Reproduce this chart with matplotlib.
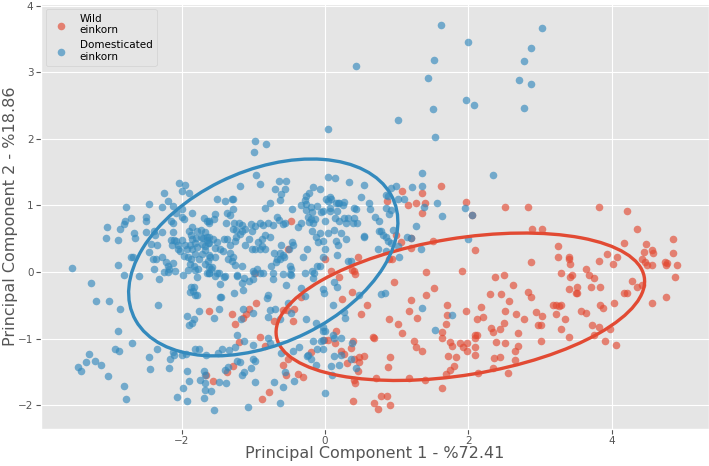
import matplotlib

matplotlib.use("Agg")

import matplotlib.pyplot as plt
import numpy as np
from matplotlib.patches import Ellipse

# PCA scores (PC1, PC2)
DOMESTICATED = [
    # sparse points above the main cloud
    (1.62, 3.71), (2.0, 3.45), (0.43, 3.10), (1.52, 3.18), (1.44, 2.92), (1.97, 2.58),
    (1.51, 2.45), (1.02, 2.28), (1.53, 2.03), (0.04, 2.15), (-0.97, 1.97), (-0.82, 1.92),
    (-0.99, 1.80), (3.03, 3.66), (2.88, 3.36), (2.78, 3.17), (2.71, 2.88), (2.88, 2.82),
    (2.08, 2.50), (2.78, 2.46), (2.34, 1.46), (1.96, 0.96), (2.05, 0.86), (2.0, 0.49),
    # upper cloud, right half
    (1.36, 1.48), (1.36, 1.29), (0.99, 1.29), (0.92, 1.26), (1.21, 1.27), (0.88, 1.14),
    (1.02, 1.10), (1.11, 1.10), (1.38, 0.97), (1.56, 1.03), (1.63, 0.84), (1.27, 0.69),
    (0.92, 0.93), (0.75, 0.61), (0.70, 0.83), (0.63, 0.94), (0.61, 1.04), (0.51, 1.12),
    (0.54, 1.31), (0.33, 1.35), (0.40, 0.96), (0.44, 0.94), (0.45, 0.73), (0.55, 0.54),
    (0.04, 1.43), (0.14, 1.41), (-0.17, 1.28), (-0.07, 1.24), (0.07, 1.12), (0.09, 1.10),
    (0.05, 1.06), (-0.22, 1.18), (-0.26, 1.14), (-0.26, 1.02), (-0.27, 0.93), (-0.18, 0.90),
    (-0.14, 0.80), (0.18, 1.03), (0.25, 1.0), (0.07, 0.96), (0.07, 0.91), (0.0, 0.77),
    (-0.46, 0.94), (-0.64, 1.36), (-0.54, 1.36), (-0.70, 1.24), (-0.55, 1.24), (-0.61, 1.17),
    (-0.62, 1.08), (-0.90, 1.32), (-0.96, 1.45), (-1.18, 1.29), (-0.76, 1.03), (-0.84, 0.96),
    (-1.28, 1.10), (-1.28, 0.94), (-0.20, 0.80), (-0.23, 0.83), (-0.06, 0.90),
    (-0.34, 1.0), (-0.28, 1.08), (-0.11, 0.99), (-0.19, 0.97), (0.02, 1.10),
    (0.13, 0.63), (0.05, 0.58), (0.23, 0.58), (0.30, 0.49), (0.55, 0.53), (0.78, 0.61),
    (0.81, 0.56), (0.85, 0.53), (0.95, 0.63), (1.15, 0.53), (1.20, 0.51), (0.20, 0.77),
    (0.26, 0.81), (0.32, 0.81), (0.40, 0.81), (0.39, 0.73), (0.30, 0.73), (0.14, 0.81),
    (0.15, 1.03), (0.20, 1.03), (0.27, 1.05), (-0.03, 0.91), (0.17, 0.91), (0.75, 0.76),
    (0.85, 1.15), (0.85, 0.96), (0.90, 0.87),
    (-1.24, 0.63), (-1.28, 0.65), (-1.18, 0.57), (-1.24, 0.53), (-1.06, 0.49), (-1.02, 0.61),
    (-1.12, 0.65), (-1.16, 0.62), (-0.77, 0.53), (-0.84, 0.55), (-0.88, 0.50), (-1.27, 0.73),
    (-1.20, 0.74), (-1.16, 0.71), (-1.03, 0.72), (-0.98, 0.69), (-0.90, 0.73), (-0.86, 0.71),
    (-0.79, 0.73), (-0.73, 0.71), (-0.67, 0.83), (-0.64, 0.78), (-0.59, 0.72), (-0.55, 0.74),
    (-0.37, 0.68), (-0.34, 0.73), (-0.22, 0.75), (-0.16, 0.73), (-0.18, 0.62), (-0.07, 0.58),
    (-0.12, 0.52),
    # upper cloud, left half
    (-1.51, 1.09), (-1.40, 1.06), (-1.30, 1.09), (-1.69, 0.81), (-1.53, 0.87), (-1.55, 0.80),
    (-1.62, 0.77), (-1.36, 0.89), (-1.33, 0.85), (-1.38, 0.73), (-1.36, 0.49), (-1.33, 0.41),
    (-1.41, 0.49), (-1.51, 0.45), (-1.54, 0.36), (-1.46, 0.34), (-1.42, 0.31), (-1.56, 0.49),
    (-1.64, 0.53), (-1.65, 0.48), (-1.70, 0.51), (-1.62, 0.44), (-1.32, 0.29), (-1.35, 0.19),
    (-1.30, 0.16), (-1.53, 0.23), (-1.63, 0.16), (-1.59, 0.04), (-1.53, -0.06), (-1.39, -0.06),
    (-0.09, 0.45), (0.0, 0.35), (-0.02, 0.46), (-0.03, 0.22), (-0.07, 0.09), (-0.25, 0.35),
    (-0.31, 0.23), (-0.46, 0.45), (-0.44, 0.40), (-0.50, 0.34), (-0.61, 0.41), (-0.62, 0.28),
    (-0.71, 0.28), (-0.67, 0.20), (-0.58, 0.25), (-0.57, 0.22), (-0.49, 0.09), (-0.48, 0.04),
    (-0.93, 0.45), (-0.88, 0.39), (-0.84, 0.34), (-1.12, 0.40), (-1.02, 0.34), (-0.98, 0.35),
    (-0.91, 0.34), (-1.25, 0.46), (-1.28, 0.23), (-1.25, 0.11), (-1.16, 0.09), (-1.01, 0.01),
    (-0.95, 0.05), (-0.86, -0.02), (-0.75, 0.09), (-0.68, 0.15), (-0.62, 0.20), (-0.47, -0.05),
    (-0.28, -0.02), (-0.18, 0.01), (-0.11, 0.09), (-0.73, -0.01),
    (0.16, 0.46), (0.18, 0.41), (0.17, 0.25), (0.32, 0.16), (0.36, 0.16), (0.88, 0.46),
    (0.74, 0.34), (0.85, 0.31), (0.92, 0.44), (1.02, 0.39), (1.04, 0.23), (1.34, 0.35),
    (-2.04, 1.34), (-1.95, 1.30), (-1.99, 1.21), (-1.89, 1.18), (-2.25, 1.18), (-2.19, 1.06),
    (-2.12, 0.99), (-2.28, 0.97), (-2.46, 1.02), (-2.77, 0.98), (-2.79, 0.76), (-2.80, 0.72),
    (-2.71, 0.81), (-2.86, 0.64), (-3.04, 0.67), (-3.06, 0.51), (-2.89, 0.48), (-2.67, 0.59),
    (-2.65, 0.51), (-2.50, 0.76), (-2.49, 0.83), (-2.50, 0.60), (-2.38, 0.61), (-2.27, 0.60),
    (-2.15, 0.77), (-2.12, 0.73), (-2.08, 0.88), (-1.99, 0.94), (-2.0, 0.82), (-1.97, 0.80),
    (-1.86, 0.89), (-1.86, 0.68), (-1.89, 0.61), (-1.79, 0.62), (-1.68, 0.60), (-1.73, 0.63),
    (-1.65, 0.77), (-1.62, 0.74), (-2.12, 0.60), (-2.11, 0.48), (-2.08, 0.47), (-2.05, 0.35),
    (-2.05, 0.40), (-2.15, 0.48), (-2.14, 0.41), (-2.37, 0.55), (-2.34, 0.41), (-2.42, 0.42),
    (-2.45, 0.30), (-2.40, 0.19), (-2.28, 0.22), (-2.36, 0.19), (-2.39, 0.04), (-2.71, 0.22),
    (-2.68, 0.22), (-2.89, 0.11), (-2.81, -0.04), (-2.60, -0.06), (-2.22, 0.15), (-2.19, 0.09),
    (-2.12, 0.14), (-2.17, 0.05), (-2.09, 0.02), (-2.24, 0.0), (-2.19, 0.0), (-2.0, 0.48),
    (-2.02, 0.31), (-1.95, 0.41), (-1.88, 0.41), (-1.92, 0.35), (-1.86, 0.35), (-1.96, 0.24),
    (-1.87, 0.19), (-1.81, 0.27), (-1.75, 0.20), (-1.83, 0.09), (-1.88, 0.12), (-1.78, 0.38),
    (-1.81, 0.44), (-1.80, 0.51), (-1.73, 0.53), (-1.71, 0.42), (-1.67, 0.39), (-1.67, 0.33),
    (-1.71, 0.27), (-1.62, 0.26), (-1.63, 0.44), (-1.62, 0.53), (-1.86, 0.49), (-1.87, 0.56),
    (-1.91, 0.22), (-1.81, 0.03), (-1.91, 0.03), (-1.77, 0.04), (-1.67, 0.12), (-1.62, -0.01),
    (-1.62, 0.07), (-1.58, 0.08), (-1.61, 0.22),
    # lower left tail
    (-2.31, -0.11), (-1.98, -0.04), (-1.78, -0.08), (-1.64, -0.02), (-3.53, 0.06), (-3.27, -0.17),
    (-3.19, -0.43), (-3.01, -0.44), (-2.86, -0.56), (-2.89, -0.88), (-2.33, -0.50), (-2.69, -1.07),
    (-2.93, -1.16), (-2.87, -1.19), (-3.29, -1.23), (-3.45, -1.42), (-3.40, -1.48), (-3.34, -1.35),
    (-3.21, -1.33), (-3.12, -1.40), (-3.02, -1.56), (-2.81, -1.71), (-2.77, -1.90), (-2.45, -1.27),
    (-2.44, -1.45), (-2.34, -1.16), (-2.17, -1.44), (-2.16, -1.30), (-2.12, -1.20), (-2.11, -1.24),
    (-2.06, -1.88), (-2.0, -1.24), (-1.94, -1.23), (-1.98, -1.74), (-1.92, -1.93), (-1.92, -1.49),
    (-1.90, -1.63), (-1.74, -1.62), (-1.67, -1.66), (-1.69, -1.49), (-1.68, -1.77), (-1.69, -1.89),
    (-1.68, -1.54), (-1.59, -1.78), (-1.55, -2.07), (-1.48, -1.65), (-1.38, -1.67), (-1.40, -1.47),
    (-1.35, -1.42), (-1.49, -1.22), (-1.44, -1.15), (-1.34, -1.17), (-1.23, -1.34), (-1.81, -1.16),
    (-1.75, -1.16), (-1.66, -1.24), (-1.93, -0.66), (-1.86, -0.76), (-1.88, -0.30), (-1.84, -0.29),
    (-1.81, -0.34), (-1.87, -0.22), (-1.82, -0.22), (-1.79, -0.35), (-1.90, -0.79), (-1.82, -0.71),
    (-1.75, -0.59), (-1.55, -0.69), (-1.48, -0.55), (-1.46, -0.37), (-1.46, -0.18), (-1.48, -0.01),
    (-1.22, -0.94), (-1.27, -0.31), (-1.16, -0.16), (-1.23, -0.06),
    (-1.62, -0.01), (-1.50, -0.01), (-1.41, -0.07), (-1.22, -0.05), (-1.13, -0.09), (-1.06, -0.14),
    (-1.14, -0.27), (-0.99, -0.01), (-0.91, -0.01), (-1.01, -0.10), (-0.73, -0.10), (-0.80, -0.35),
    (-0.81, -0.39), (-0.76, -0.57), (-0.69, -0.56), (-0.51, -0.46), (-0.54, -0.19), (-0.49, -0.03),
    (-0.58, -0.03), (-0.15, -0.01), (-0.34, -0.24), (-0.28, -0.36), (-0.16, -0.09), (-1.45, -0.38),
    (-1.14, -0.55), (-1.17, -0.70), (-1.01, -0.61), (-0.80, -0.67), (-0.62, -0.70), (-0.47, -0.62),
    (-0.26, -0.70), (-0.13, -0.76), (-0.02, -0.88), (-0.06, -1.04), (-0.16, -1.04), (-1.13, -1.04),
    (-0.79, -0.99), (-0.76, -1.07), (-1.0, -1.10), (-1.26, -1.13), (-1.01, -1.30), (-1.19, -1.35),
    (-0.97, -1.34), (-1.03, -1.44), (-0.61, -1.21), (-0.44, -1.19), (-0.36, -1.13), (-0.25, -1.26),
    (-0.23, -1.24), (-0.19, -1.31), (-0.12, -1.39), (-0.11, -1.16),
    (-1.16, -1.54), (-0.97, -1.65), (-0.71, -1.65), (-0.58, -1.72), (-0.43, -1.64), (-1.07, -2.02),
    (-0.62, -1.96), (0.0, -1.82), (-0.56, -1.50), (-1.13, -1.50),
    (0.13, -0.15), (0.17, -0.23), (-0.03, -0.26), (-0.01, -0.32), (0.48, -0.35), (0.78, -0.33),
    (0.84, -0.31), (0.11, -0.49), (0.27, -0.60), (0.28, -0.69), (1.36, -0.54), (1.78, -0.65),
    (1.53, -0.87), (-0.03, -0.83), (0.0, -0.89), (0.11, -0.94), (0.13, -0.99), (0.23, -0.99),
    (-0.03, -1.02), (-0.03, -1.16), (0.38, -1.06), (0.13, -1.26), (0.22, -1.24), (0.09, -1.41),
    (0.20, -1.40), (0.36, -1.30), (0.44, -1.44), (0.10, -1.54),
]

WILD = [
    (1.97, 1.05), (2.05, 0.86), (2.52, 0.97), (2.84, 0.98), (3.82, 0.98), (4.21, 0.92),
    (4.35, 0.65), (2.89, 0.65), (3.03, 0.65), (4.86, 0.49), (1.62, 1.29), (1.35, 1.18),
    (1.07, 1.21), (0.86, 1.07), (1.16, 1.0), (1.27, 1.03), (1.39, 1.03), (1.36, 0.88),
    (-0.47, 0.76), (0.99, 0.55), (1.06, 0.45), (1.20, 0.36), (0.90, 0.20), (0.93, 0.19),
    (0.46, 0.23), (0.0, 0.20), (1.51, 0.46), (0.09, 0.01), (0.41, 0.01), (0.20, -0.07),
    (1.41, 0.0), (1.92, 0.01), (1.20, 0.51), (-0.52, 0.35), (-0.98, -0.02),
    (0.42, -0.03), (0.38, 0.03), (0.97, -0.15), (1.52, -0.24), (1.41, -0.35), (1.20, -0.42),
    (0.24, -0.40), (0.38, -0.30), (0.59, -0.50), (0.50, -0.63), (1.18, -0.58), (1.71, -0.50),
    (1.71, -0.64), (1.97, -0.59), (1.28, -0.69), (0.89, -0.70), (1.02, -0.78), (1.08, -0.91),
    (1.69, -0.78), (1.63, -0.90), (1.63, -0.99), (0.67, -0.97), (0.69, -0.99), (1.25, -1.03),
    (1.27, -1.12), (1.35, -1.18), (1.75, -1.05), (1.77, -1.11), (1.89, -1.07), (1.93, -1.12),
    (1.98, -1.06), (1.98, -1.18), (1.72, -1.26), (1.83, -1.27), (1.80, -1.41), (1.75, -1.47),
    (1.69, -1.53), (1.63, -1.74), (0.04, -1.02), (0.14, -1.06), (0.23, -1.19), (0.26, -1.23),
    (0.37, -1.14), (0.39, -1.03), (0.31, -1.36), (0.41, -1.30), (0.47, -1.27), (0.54, -1.26),
    (0.48, -1.35), (0.46, -1.49), (0.91, -1.27), (0.88, -1.43), (0.41, -1.62), (0.42, -1.67),
    (1.18, -1.59), (1.39, -1.62), (0.71, -1.59), (0.78, -1.86), (0.87, -1.86), (0.68, -1.97),
    (0.91, -1.99), (0.74, -2.05), (0.39, -1.93), (0.15, -0.89),
    (-0.88, -1.91), (-0.78, -1.80), (-0.38, -1.53), (-0.31, -1.57), (-0.54, -1.54),
    (-1.62, -0.59), (-1.30, -0.63), (-1.25, -0.78), (-1.14, -0.69), (-1.10, -0.63), (-1.06, -0.55),
    (-0.96, -0.46), (-0.71, -0.73), (-0.58, -0.57), (-0.53, -0.57), (-0.43, -0.55), (-0.44, -0.74),
    (-0.33, -0.37), (-1.20, -1.05), (-0.91, -0.97), (-0.83, -1.11), (-1.28, -1.41), (-0.51, -1.30),
    (-0.58, -1.39), (-0.20, -1.20), (-0.01, -1.02), (-1.56, -1.63), (-1.66, -1.54), (-1.36, -1.50),
    (2.09, 0.33), (2.38, -0.07), (2.50, -0.04), (2.63, -0.20), (2.88, 0.15), (2.83, -0.30),
    (2.88, -0.37), (2.31, -0.33), (2.46, -0.33), (2.57, -0.43), (2.18, -0.53), (2.12, -0.70),
    (2.21, -0.68), (2.51, -0.59), (2.67, -0.63), (2.78, -0.71), (2.32, -0.84), (2.34, -0.90),
    (2.44, -0.85), (2.50, -0.77), (2.70, -0.91), (2.09, -0.94), (2.12, -0.95), (2.09, -0.99),
    (2.09, -1.13), (2.09, -1.25), (2.39, -1.05), (2.52, -1.06), (2.69, -1.11), (2.65, -1.18),
    (2.36, -1.29), (2.44, -1.28), (2.35, -1.44), (2.65, -1.32), (2.55, -1.52), (2.13, -1.52),
    (2.94, -0.60), (3.03, -0.66), (2.98, -0.80), (3.02, -0.80), (3.01, -1.03), (3.18, -0.50),
    (3.22, -0.49), (3.26, -0.51), (3.30, -0.50), (3.22, -0.63), (3.35, -0.71), (3.29, -0.85),
    (3.40, -0.98), (3.57, -0.58), (3.65, -0.62), (3.73, -0.79), (3.75, -0.94), (3.84, -0.50),
    (3.88, -0.54), (3.83, -0.83), (3.91, -1.03), (3.98, -0.86), (4.06, -1.09), (4.04, -0.46),
    (3.25, 0.39), (3.25, 0.23), (3.40, 0.22), (3.41, 0.20), (3.42, 0.12), (3.30, -0.01),
    (3.42, -0.08), (3.45, -0.04), (3.40, -0.26), (3.52, -0.22), (3.50, -0.31), (3.52, -0.32),
    (3.65, 0.04), (3.68, -0.04), (3.76, -0.09), (3.71, -0.22), (3.84, -0.22), (3.82, 0.16),
    (3.94, 0.27), (4.02, 0.12), (4.08, 0.23), (4.17, 0.44), (4.28, -0.13), (4.17, -0.31),
    (4.21, -0.31), (4.35, -0.23), (4.43, -0.20), (4.43, 0.19), (4.45, 0.30), (4.48, 0.42),
    (4.47, 0.15), (4.49, 0.11), (4.57, 0.10), (4.58, 0.28), (4.57, 0.33), (4.56, -0.47),
    (4.74, 0.15), (4.76, 0.10), (4.78, 0.14), (4.86, 0.28), (4.89, -0.07), (4.92, 0.10),
    (4.76, -0.37),
]

# confidence ellipses: centre, width, height, angle (deg)
WILD_ELLIPSE = ((1.89, -0.52), 5.21, 2.05, 10)
DOM_ELLIPSE = ((-0.86, 0.22), 4.03, 2.57, 28)

RED = "#E24A33"
BLUE = "#348ABD"


def main() -> None:
    plt.style.use("ggplot")
    fig = plt.figure(figsize=(7.09, 4.66), dpi=100)
    ax = fig.add_axes([0.058, 0.08, 0.942, 0.911])

    wild = np.array(WILD)
    dom = np.array(DOMESTICATED)
    ax.scatter(wild[:, 0], wild[:, 1], s=30, color=RED, alpha=0.65,
               linewidths=0, label="Wild\neinkorn", zorder=2)
    ax.scatter(dom[:, 0], dom[:, 1], s=30, color=BLUE, alpha=0.65,
               linewidths=0, label="Domesticated\neinkorn", zorder=2)

    for (centre, width, height, angle), color in ((WILD_ELLIPSE, RED), (DOM_ELLIPSE, BLUE)):
        ax.add_patch(Ellipse(centre, width, height, angle=angle, fill=False,
                             edgecolor=color, linewidth=2.4, zorder=3))

    ax.set_xlim(-3.96, 5.36)
    ax.set_ylim(-2.35, 4.02)
    ax.set_xticks([-2, 0, 2, 4])
    ax.set_yticks([-2, -1, 0, 1, 2, 3, 4])
    ax.tick_params(labelsize=7.5, colors="#555555", pad=2)
    ax.set_xlabel("Principal Component 1 - %72.41", fontsize=11.5, color="#555555",
                  labelpad=0)
    ax.set_ylabel("Principal Component 2 - %18.86", fontsize=11.5, color="#555555",
                  labelpad=0)
    ax.legend(loc="upper left", fontsize=7.5)

    fig.savefig("out.png", dpi=100)
    plt.close(fig)


if __name__ == "__main__":
    main()
